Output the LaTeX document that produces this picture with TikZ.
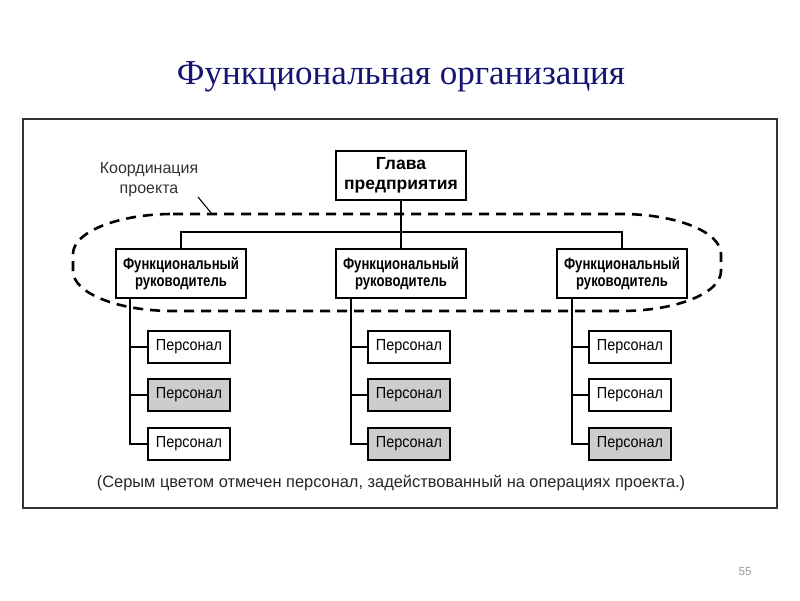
\documentclass[tikz,border=0pt]{standalone}
\usepackage{fontspec}
\setmainfont{Liberation Sans}
\newfontfamily\titlefont{Liberation Serif}
\newfontfamily\narrowA[FakeStretch=0.8]{Liberation Sans}
\newfontfamily\narrowB[FakeStretch=0.9]{Liberation Sans}
\usetikzlibrary{positioning}
\definecolor{navy}{RGB}{20,20,115}
\definecolor{grayfill}{RGB}{205,205,205}
\tikzset{
  boss/.style={draw, line width=1.5pt, minimum width=130pt, minimum height=49pt, inner sep=1pt, align=center, font=\fontsize{17.5}{20}\selectfont\bfseries},
  mgr/.style={draw, line width=1.5pt, minimum width=130pt, minimum height=49pt, inner sep=1pt, align=center, font=\narrowA\fontsize{16.4}{17}\selectfont\bfseries},
  pers/.style={draw, line width=1.4pt, minimum width=82pt, minimum height=32pt, inner sep=1pt, font=\narrowB\fontsize{16}{17}\selectfont},
  persg/.style={pers, fill=grayfill},
  conn/.style={line width=1.2pt},
  coordring/.style={line width=2.6pt, dash pattern=on 10pt off 7pt},
}
\begin{document}
\begin{tikzpicture}[x=1pt,y=-1pt]
\useasboundingbox (0,0) rectangle (800,600);
\node[font=\titlefont\fontsize{35}{40}\selectfont, text=navy] (title) at (401,77) {Функциональная организация};
\draw[line width=1.4pt, draw=black!80] (23,119) rectangle (777,508);
\node[boss] (head) at (401,175.5) {Глава\\предприятия};
\node[mgr] (m1) at (181,273.5) {Функциональный\\руководитель};
\node[mgr] (m2) at (401,273.5) {Функциональный\\руководитель};
\node[mgr] (m3) at (622,273.5) {Функциональный\\руководитель};
\coordinate (bus) at (401,232);
\draw[conn] (head.south) -- (m2.north);
\draw[conn] (m1.north) |- (bus) -| (m3.north);
% dashed coordination ring
\draw[coordring] (173,214) -- (621,214)
  arc[start angle=-90, end angle=0, x radius=100, y radius=40] -- (721,271)
  arc[start angle=0, end angle=90, x radius=100, y radius=40] -- (173,311)
  arc[start angle=90, end angle=180, x radius=100, y radius=40] -- (73,254)
  arc[start angle=180, end angle=270, x radius=100, y radius=40] -- cycle;
\node[align=center, font=\fontsize{16}{20}\selectfont, text=black!80] (coord) at (149,180) {Координация\\проекта};
\coordinate (cend) at (212,214);
\draw[line width=1.1pt] (198,197) -- (cend);
% personnel
\node[pers]  (p11) at (189,347) {Персонал};
\node[persg] (p12) at (189,395) {Персонал};
\node[pers]  (p13) at (189,444) {Персонал};
\node[pers]  (p21) at (409,347) {Персонал};
\node[persg] (p22) at (409,395) {Персонал};
\node[persg] (p23) at (409,444) {Персонал};
\node[pers]  (p31) at (630,347) {Персонал};
\node[pers]  (p32) at (630,395) {Персонал};
\node[persg] (p33) at (630,444) {Персонал};
\foreach \i/\x in {1/130,2/351,3/572}{
  \coordinate (t\i) at (\x,298);
  \draw[conn] (t\i) |- (p\i3.west);
  \draw[conn] (p\i1.west) -- (p\i1.west -| t\i);
  \draw[conn] (p\i2.west) -- (p\i2.west -| t\i);
}
\node[font=\fontsize{16.4}{19}\selectfont, text=black!85] (cap) at (391,483) {(Серым цветом отмечен персонал, задействованный на операциях проекта.)};
\node[font=\fontsize{11.5}{13}\selectfont, text=black!40] (pg) at (745,572) {55};
\end{tikzpicture}
\end{document}
